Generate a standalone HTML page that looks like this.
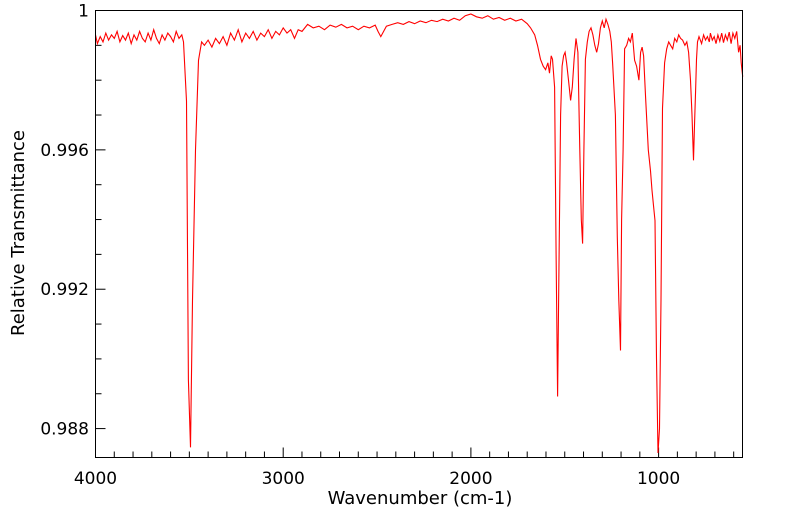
<!DOCTYPE html>
<html><head><meta charset="utf-8"><style>
body{margin:0;background:#fff;}
svg{display:block;font-family:"DejaVu Sans","Liberation Sans",sans-serif;}
</style></head><body>
<svg id="chart" width="799" height="516">
<rect x="0" y="0" width="799" height="516" fill="#fff"/>
<g id="axes"></g>
<path id="line" fill="none" stroke="#ff0000" stroke-width="1.1"/>
<rect x="95.5" y="10.5" width="647" height="447" fill="none" stroke="#000" stroke-width="1"/>
<text x="420" y="504" text-anchor="middle" font-size="18">Wavenumber (cm-1)</text>
<text transform="translate(24,233) rotate(-90)" text-anchor="middle" font-size="18">Relative Transmittance</text>
</svg>
<script>
const wavenumbers=[4000,3990,3975,3960,3945,3930,3915,3900,3885,3870,3855,3840,3825,3810,3795,3780,3765,3750,3735,3720,3705,3690,3675,3660,3645,3630,3615,3600,3585,3570,3555,3540,3531,3515,3505,3494,3483,3467,3451,3435,3420,3400,3380,3360,3340,3320,3300,3280,3260,3240,3220,3200,3180,3160,3140,3120,3100,3080,3060,3040,3020,3000,2980,2960,2940,2920,2900,2870,2840,2810,2780,2750,2720,2690,2660,2630,2600,2570,2540,2510,2495,2480,2450,2420,2390,2360,2330,2300,2270,2240,2210,2180,2150,2120,2090,2060,2030,2000,1970,1940,1910,1880,1850,1820,1790,1760,1730,1700,1682,1660,1645,1629,1615,1602,1590,1581,1572,1565,1554,1546,1538,1530,1522,1514,1506,1498,1490,1480,1469,1460,1450,1440,1430,1420,1412,1405,1398,1390,1380,1370,1360,1350,1340,1330,1320,1310,1300,1290,1280,1270,1260,1252,1245,1230,1220,1212,1203,1197,1189,1181,1170,1160,1150,1140,1128,1117,1105,1096,1088,1080,1069,1055,1043,1035,1027,1019,1011,1003,995,987,979,968,957,946,936,925,914,903,893,883,872,860,850,840,830,822,814,808,803,798,793,785,771,760,750,740,730,724,714,704,694,684,674,664,654,644,634,624,614,604,594,584,574,566,560,552];
const transmittance=[0.99930,0.99905,0.99925,0.99910,0.99935,0.99915,0.99930,0.99920,0.99940,0.99910,0.99928,0.99915,0.99935,0.99905,0.99930,0.99915,0.99940,0.99920,0.99910,0.99935,0.99915,0.99945,0.99920,0.99905,0.99930,0.99915,0.99935,0.99925,0.99910,0.99940,0.99920,0.99930,0.99910,0.99740,0.98940,0.98746,0.99168,0.99600,0.99857,0.99910,0.99900,0.99915,0.99895,0.99920,0.99905,0.99925,0.99900,0.99935,0.99915,0.99945,0.99910,0.99935,0.99920,0.99940,0.99915,0.99935,0.99925,0.99945,0.99920,0.99940,0.99930,0.99950,0.99935,0.99945,0.99920,0.99945,0.99940,0.99960,0.99950,0.99955,0.99945,0.99958,0.99952,0.99960,0.99950,0.99955,0.99945,0.99955,0.99950,0.99958,0.99940,0.99925,0.99955,0.99960,0.99965,0.99960,0.99968,0.99962,0.99970,0.99965,0.99972,0.99968,0.99975,0.99970,0.99978,0.99972,0.99985,0.99990,0.99982,0.99978,0.99985,0.99975,0.99980,0.99972,0.99978,0.99970,0.99975,0.99962,0.99950,0.99930,0.99900,0.99860,0.99840,0.99830,0.99850,0.99820,0.99870,0.99860,0.99780,0.99300,0.98892,0.99300,0.99700,0.99840,0.99870,0.99880,0.99850,0.99800,0.99742,0.99780,0.99860,0.99920,0.99880,0.99600,0.99400,0.99331,0.99600,0.99860,0.99910,0.99940,0.99950,0.99930,0.99900,0.99880,0.99905,0.99950,0.99970,0.99950,0.99975,0.99960,0.99940,0.99910,0.99850,0.99700,0.99350,0.99170,0.99024,0.99400,0.99600,0.99890,0.99900,0.99920,0.99910,0.99935,0.99857,0.99840,0.99800,0.99880,0.99895,0.99870,0.99750,0.99600,0.99540,0.99484,0.99440,0.99397,0.99000,0.98730,0.98800,0.99168,0.99720,0.99850,0.99890,0.99910,0.99900,0.99890,0.99920,0.99910,0.99930,0.99920,0.99915,0.99900,0.99910,0.99880,0.99800,0.99700,0.99570,0.99680,0.99770,0.99860,0.99910,0.99925,0.99905,0.99930,0.99915,0.99925,0.99910,0.99935,0.99915,0.99925,0.99905,0.99930,0.99912,0.99935,0.99908,0.99930,0.99915,0.99938,0.99905,0.99935,0.99920,0.99940,0.99880,0.99900,0.99850,0.99810];
const xTicks=[4000,3000,2000,1000];
const yTicks=[1,0.996,0.992,0.988];
const yTickLabels=["1","0.996","0.992","0.988"];
const L=95.5,R=742.5,T=10.5,B=457.5;
const WMAX=4000,WMIN=553,YMAX=1.0,YMIN=0.98717;
function sx(w){return L+(WMAX-w)/(WMAX-WMIN)*(R-L);}
function sy(v){return T+(YMAX-v)/(YMAX-YMIN)*(B-T);}
const NS="http://www.w3.org/2000/svg";
const ax=document.getElementById('axes');
function mk(tag,attrs){const e=document.createElementNS(NS,tag);for(const k in attrs)e.setAttribute(k,attrs[k]);ax.appendChild(e);return e;}
for(let w=4000;w>=WMIN;w-=100){
  const major=w%1000===0;
  const t=mk('line',{x1:sx(w),x2:sx(w),y1:B,y2:B-(major?10:6),stroke:'#000'});
  
  
}
xTicks.forEach(w=>{
  const t=mk('text',{x:sx(w),y:484,'text-anchor':'middle','font-size':17});
  t.textContent=String(w);
  
  
});
for(let i=0;i<=13;i++){
  const v=1-i*0.001; if(v<YMIN)break;
  const major=i%4===0;
  const t=mk('line',{x1:L,x2:L+(major?10:6),y1:sy(v),y2:sy(v),stroke:'#000'});
  
  
}
yTicks.forEach((v,i)=>{
  const t=mk('text',{x:89,y:sy(v)+6,'text-anchor':'end','font-size':17});
  t.textContent=yTickLabels[i];
  
  
});
let d='';
wavenumbers.forEach((w,i)=>{const y=Math.min(Math.max(sy(transmittance[i]),T),B);d+=(i?'L':'M')+sx(w).toFixed(1)+','+y.toFixed(1);});
document.getElementById('line').setAttribute('d',d);
</script>
</body></html>
